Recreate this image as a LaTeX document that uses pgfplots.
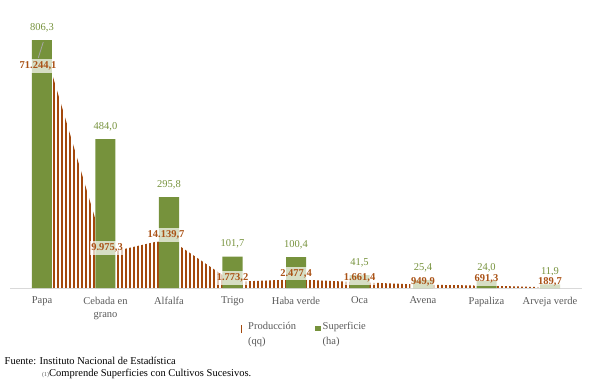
\documentclass[border=0pt]{standalone}
\usepackage{fontspec}
\setmainfont{Liberation Serif}
\usepackage{pgfplots}
\pgfplotsset{compat=1.18}
\definecolor{greenbar}{RGB}{118,146,60}
\definecolor{brownline}{RGB}{163,72,12}
\definecolor{brownlbl}{RGB}{170,82,22}
\definecolor{axisgray}{RGB}{217,217,217}
\definecolor{txtgray}{RGB}{89,89,89}
\definecolor{leader}{RGB}{166,166,166}

\pgfplotstableread{
x prod dx dy
0 71244.1 -4 -26
1 9975.3 1.5 5
2 14139.7 -3 4
3 1773.2 0 4
4 2477.4 0 6
5 1661.4 0 4
6 949.9 0 3
7 691.3 0 6.5
8 189.7 0 6
}\prodtable

\pgfplotstableread{
x sup
0 806.3
1 484.0
2 295.8
3 101.7
4 100.4
5 41.5
6 25.4
7 24.0
8 11.9
}\suptable

\newcommand{\lblfont}{\fontsize{10.5}{12}\selectfont}

\begin{document}
\begin{tikzpicture}
\useasboundingbox (0,0) rectangle (605pt,384pt);
\pgfplotsset{
  base/.style={
    scale only axis, width=571.5pt, height=276.8pt,
    at={(10.25pt,96pt)}, anchor=south west,
    xmin=-0.5, xmax=8.5, ymin=0, clip=false,
    /pgf/number format/.cd, fixed, fixed zerofill, precision=1, use comma, 1000 sep={.}, assume math mode=true,
  }
}
% Production area (secondary scale), hatched with vertical lines
\begin{axis}[base, ymax=79523, hide axis]
\addplot[draw=none, fill=none,
  path picture={
    \pgfsetlinewidth{1.05pt}%
    \pgfsetstrokecolor{brownline}%
    \foreach \i in {0,...,132}{%
      \pgfpathmoveto{\pgfpointadd{\pgfpointanchor{path picture bounding box}{south west}}{\pgfpoint{\i*4pt}{0pt}}}%
      \pgfpathlineto{\pgfpointadd{\pgfpointanchor{path picture bounding box}{south west}}{\pgfpoint{\i*4pt}{320pt}}}%
    }%
    \pgfusepath{stroke}%
  }]
  table[x=x,y=prod]{\prodtable} \closedcycle;
\end{axis}
% Superficie bars
\begin{axis}[base, ymax=900,
  hide y axis, axis x line*=bottom,
  x axis line style={-, draw=axisgray, line width=0.8pt},
  xtick=data, xtick style={draw=none},
  xticklabels={Papa,{Cebada en\\grano},Alfalfa,Trigo,Haba verde,Oca,Avena,Papaliza,Arveja verde},
  xticklabel style={align=center, font=\fontsize{10.5}{13}\selectfont, text=txtgray, yshift=-1pt},
  ybar, bar width=20pt,
  nodes near coords,
  every node near coord/.append style={anchor=center, yshift=12.5pt, font=\lblfont, text=greenbar},
]
\addplot[draw=none, fill=greenbar] table[x=x,y=sup]{\suptable};
\end{axis}
% Production labels
\begin{axis}[base, ymax=79523, hide axis,
  nodes near coords,
  visualization depends on={\thisrow{dx} \as \dx},
  visualization depends on={\thisrow{dy} \as \dy},
  every node near coord/.append style={anchor=center, xshift=\dx pt, yshift=\dy pt,
     font=\lblfont\bfseries, text=brownlbl, fill=white, fill opacity=0.7, text opacity=1,
     inner xsep=1pt, inner ysep=2.5pt},
]
\draw[leader, line width=0.8pt] (axis cs:0.02,71244.1) ++(0pt,-2pt) -- ++(-5pt,-16pt);
\addplot[draw=none, mark=none] table[x=x,y=prod]{\prodtable};
\end{axis}
% Legend
\draw[brownline, line width=1.2pt] (241.5pt,51pt) -- (241.5pt,59pt);
\node[anchor=north west, align=left, inner sep=0pt, text=txtgray, font=\fontsize{10.5}{14.5}\selectfont] at (248pt,62pt) {Producción\\(qq)};
\fill[greenbar] (315pt,53pt) rectangle (320.5pt,58.5pt);
\node[anchor=north west, align=left, inner sep=0pt, text=txtgray, font=\fontsize{10.5}{14.5}\selectfont] at (322.5pt,62pt) {Superficie\\(ha)};
% Footer
\node[anchor=west, inner sep=0pt, font=\fontsize{10.5}{12}\selectfont] at (4.5pt,23pt) {Fuente: Instituto Nacional de Estadística};
\node[anchor=west, inner sep=0pt, font=\fontsize{10.5}{12}\selectfont] at (42pt,10pt) {{\fontsize{6}{7}\selectfont\textcolor{txtgray}{(1)}}Comprende Superficies con Cultivos Sucesivos.};
\end{tikzpicture}
\end{document}
